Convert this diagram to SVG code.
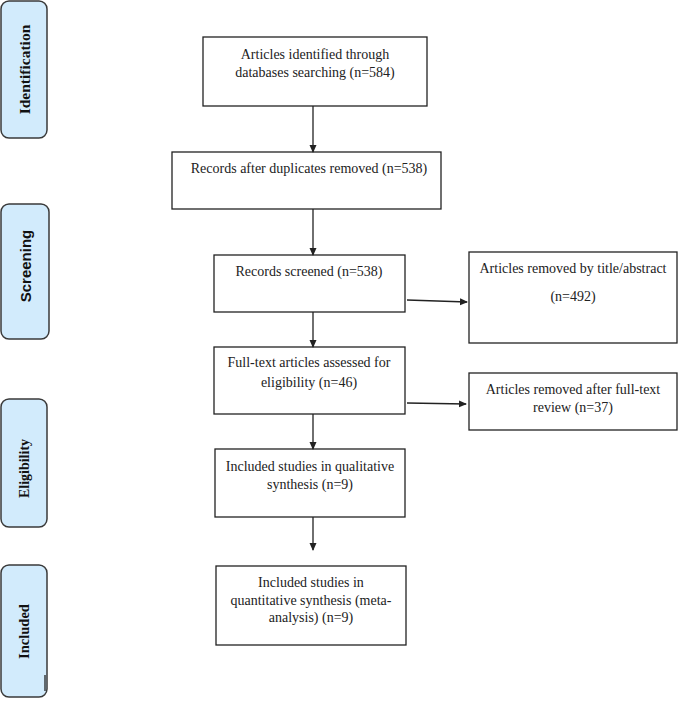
<svg xmlns="http://www.w3.org/2000/svg" width="678" height="703" viewBox="0 0 678 703">
<style>
.stage rect{fill:#d2ebfc;stroke:#3a3a3a;stroke-width:1.5}
.stage text{font-family:"Liberation Serif","Times New Roman",serif;font-weight:bold;font-size:14px;fill:#111;text-anchor:middle}
.stage text.sans{font-family:"Liberation Sans",Arial,sans-serif;font-size:15px}
.box rect{fill:#fff;stroke:#222;stroke-width:1.3}
.box text{font-family:"Liberation Serif","Times New Roman",serif;font-size:14px;fill:#222;text-anchor:middle}
.conn line{stroke:#222;stroke-width:1.3;marker-end:url(#ah)}
</style>
<defs>
<marker id="ah" markerWidth="8" markerHeight="8" refX="7" refY="4" orient="auto" markerUnits="userSpaceOnUse">
<path d="M0,0.5 L8,4 L0,7.5 Z" fill="#222"/>
</marker>
</defs>
<rect width="678" height="703" fill="#fff"/>
<g id="stage-identification" class="stage"><rect x="1" y="1" width="46" height="137" rx="8"/><text transform="translate(29.5,69.5) rotate(-90)" style="font-size:15.5px">Identification</text></g>
<g id="stage-screening" class="stage"><rect x="1" y="204" width="48" height="135" rx="8"/><text class="sans" transform="translate(30.5,266) rotate(-90)">Screening</text></g>
<g id="stage-eligibility" class="stage"><rect x="1" y="399" width="46" height="128" rx="8"/><text transform="translate(29,468.5) rotate(-90)">Eligibility</text></g>
<g id="stage-included" class="stage"><rect x="1" y="565" width="46" height="132" rx="8"/><text transform="translate(29,631.5) rotate(-90)" style="font-size:14.5px">Included</text><line x1="45" y1="675" x2="45" y2="691" stroke="#222" stroke-width="1.3"/></g>

<g id="n1" class="box"><rect x="203" y="37" width="224" height="69"/><text x="315" y="59">Articles identified through</text><text x="315" y="77">databases searching (n=584)</text></g>
<g id="n2" class="box"><rect x="172" y="152" width="269" height="57"/><text x="309" y="173">Records after duplicates removed (n=538)</text></g>
<g id="n3" class="box"><rect x="214" y="255" width="191" height="57"/><text x="309" y="276">Records screened (n=538)</text></g>
<g id="n4" class="box"><rect x="469" y="252" width="208" height="91"/><text x="573" y="273">Articles removed by title/abstract</text><text x="573" y="301">(n=492)</text></g>
<g id="n5" class="box"><rect x="214" y="347" width="191" height="67"/><text x="309" y="367">Full-text articles assessed for</text><text x="309" y="387">eligibility (n=46)</text></g>
<g id="n6" class="box"><rect x="469" y="373" width="208" height="57"/><text x="573" y="394">Articles removed after full-text</text><text x="573" y="412">review (n=37)</text></g>
<g id="n7" class="box"><rect x="215" y="449" width="190" height="68"/><text x="310" y="471">Included studies in qualitative</text><text x="310" y="489">synthesis (n=9)</text></g>
<g id="n8" class="box"><rect x="216" y="566" width="190" height="79"/><text x="311" y="587">Included studies in</text><text x="311" y="605">quantitative synthesis (meta-</text><text x="311" y="622">analysis) (n=9)</text></g>

<g id="connectors" class="conn">
<line x1="313" y1="106" x2="313" y2="152"/>
<line x1="313" y1="209" x2="313" y2="255"/>
<line x1="407" y1="300" x2="467" y2="302"/>
<line x1="313" y1="312" x2="313" y2="347"/>
<line x1="407" y1="403" x2="466" y2="404"/>
<line x1="313" y1="414" x2="313" y2="449"/>
<line x1="313" y1="517" x2="313" y2="550"/>
</g>
</svg>
